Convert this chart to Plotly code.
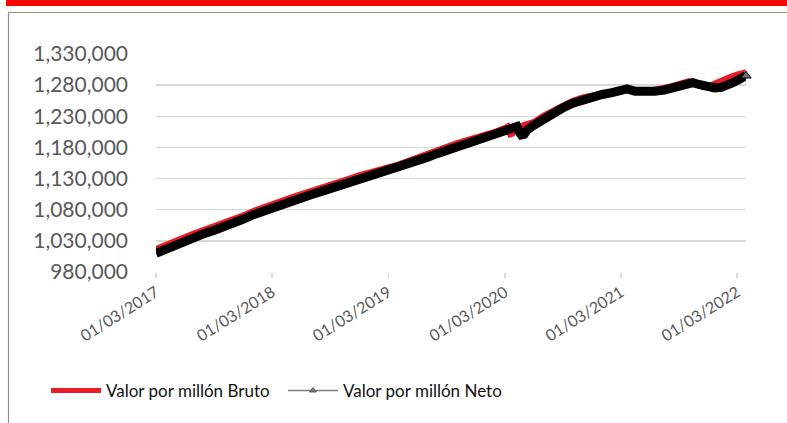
import plotly.graph_objects as go

# ---------------- data ----------------
neto_dates = [
    "2017-03-01", "2017-04-01", "2017-05-01", "2017-06-01", "2017-07-01", "2017-08-01",
    "2017-09-01", "2017-10-01", "2017-11-01", "2017-12-01", "2018-01-01", "2018-02-01",
    "2018-03-01", "2018-04-01", "2018-05-01", "2018-06-01", "2018-07-01", "2018-08-01",
    "2018-09-01", "2018-10-01", "2018-11-01", "2018-12-01", "2019-01-01", "2019-02-01",
    "2019-03-01", "2019-04-01", "2019-05-01", "2019-06-01", "2019-07-01", "2019-08-01",
    "2019-09-01", "2019-10-01", "2019-11-01", "2019-12-01", "2020-01-01", "2020-02-01",
    "2020-03-01", "2020-03-15", "2020-04-01", "2020-04-08", "2020-04-15", "2020-04-22",
    "2020-05-01", "2020-05-10", "2020-06-01", "2020-07-01", "2020-08-01", "2020-09-01",
    "2020-10-01", "2020-11-01", "2020-12-01", "2021-01-01", "2021-02-01", "2021-03-01",
    "2021-03-20", "2021-04-15", "2021-05-15", "2021-06-15", "2021-07-15", "2021-08-15",
    "2021-09-15", "2021-10-13", "2021-11-01", "2021-11-26", "2021-12-20", "2022-01-10",
    "2022-02-01", "2022-02-16", "2022-03-10", "2022-03-29",
]
neto_values = [
    1010000, 1017000, 1024000, 1030000, 1036000, 1042000,
    1047000, 1052000, 1058000, 1065000, 1072000, 1078000,
    1084000, 1089000, 1094000, 1099000, 1104000, 1109000,
    1114000, 1119000, 1124000, 1129000, 1133000, 1137000,
    1141000, 1146000, 1151000, 1157000, 1164000, 1170000,
    1175000, 1180000, 1185000, 1189000, 1194000, 1199000,
    1205000, 1209000, 1212000, 1213500, 1205000, 1200000,
    1201000, 1208000, 1216000, 1226000, 1235000, 1244000,
    1251000, 1257000, 1261000, 1265000, 1268000, 1271000,
    1274000, 1270000, 1269000, 1270000, 1272000, 1275000,
    1280000, 1284000, 1281000, 1277500, 1275500, 1276500,
    1280000, 1284000, 1290000, 1295000,
]

bruto_dates = [
    "2017-03-01", "2017-04-01", "2017-05-01", "2017-06-01", "2017-07-01", "2017-08-01",
    "2017-09-01", "2017-10-01", "2017-11-01", "2017-12-01", "2018-01-01", "2018-02-01",
    "2018-03-01", "2018-04-01", "2018-05-01", "2018-06-01", "2018-07-01", "2018-08-01",
    "2018-09-01", "2018-10-01", "2018-11-01", "2018-12-01", "2019-01-01", "2019-02-01",
    "2019-03-01", "2019-04-01", "2019-05-01", "2019-06-01", "2019-07-01", "2019-08-01",
    "2019-09-01", "2019-10-01", "2019-11-01", "2019-12-01", "2020-01-01", "2020-02-01",
    "2020-03-01", "2020-03-10", "2020-03-18", "2020-03-25", "2020-04-05", "2020-05-01",
    "2020-06-01", "2020-07-01", "2020-08-01", "2020-09-01", "2020-10-01", "2020-11-01",
    "2020-12-01", "2021-01-01", "2021-02-01", "2021-03-01", "2021-04-01", "2021-05-01",
    "2021-06-01", "2021-07-01", "2021-08-01", "2021-09-01", "2021-10-01", "2021-10-25",
    "2021-11-15", "2021-12-05", "2022-01-01", "2022-02-01", "2022-03-01", "2022-03-29",
]
bruto_values = [
    1017000, 1024000, 1030500, 1036500, 1042500, 1048000,
    1053500, 1058500, 1064500, 1071000, 1078000, 1084000,
    1090000, 1095000, 1100000, 1105000, 1110500, 1115500,
    1120500, 1125500, 1130500, 1135500, 1139500, 1143500,
    1147500, 1152500, 1158000, 1164000, 1170500, 1176500,
    1181500, 1186500, 1191500, 1195500, 1200500, 1205500,
    1211000, 1213500, 1201000, 1202000, 1212000, 1217000,
    1221000, 1231000, 1240000, 1248500, 1255000, 1260500,
    1264000, 1267500, 1270000, 1272500, 1273500, 1271000,
    1271500, 1274000, 1277500, 1282000, 1286500, 1283000,
    1277000, 1279000, 1286000, 1292000, 1297000, 1301000,
]

series_names = ["Valor por millón Bruto", "Valor por millón Neto"]
x_tick_dates = ["2017-03-01", "2018-03-01", "2019-03-01", "2020-03-01", "2021-03-01", "2022-03-01"]
x_tick_labels = ["01/03/2017", "01/03/2018", "01/03/2019", "01/03/2020", "01/03/2021", "01/03/2022"]
y_tick_values = [980000, 1030000, 1080000, 1130000, 1180000, 1230000, 1280000, 1330000]
y_tick_labels = ["980,000", "1,030,000", "1,080,000", "1,130,000", "1,180,000",
                 "1,230,000", "1,280,000", "1,330,000"]

# ---------------- layout geometry ----------------
W, H = 787, 423
L, R, T, B = 156, 41, 54, 151
pw, ph = W - L - R, H - T - B


def px_x(px):
    return (px - L) / pw


def px_y(py):
    return (H - B - py) / ph


RED = "#ec1c24"
GRID = "#d9d9d9"
FONT = "Lato, 'Noto Sans', sans-serif"

fig = go.Figure()

fig.add_trace(go.Scatter(
    x=bruto_dates, y=bruto_values, mode="lines",
    line=dict(color=RED, width=6), showlegend=False, hoverinfo="skip"))
fig.add_trace(go.Scatter(
    x=neto_dates, y=neto_values, mode="lines",
    line=dict(color="#000000", width=9), showlegend=False, hoverinfo="skip"))
fig.add_trace(go.Scatter(
    x=neto_dates[-1:], y=neto_values[-1:], mode="markers",
    marker=dict(symbol="triangle-up", size=9, color="#6f6f6f",
                line=dict(color="#000000", width=1)),
    cliponaxis=False, showlegend=False, hoverinfo="skip"))

# legend entries
fig.add_trace(go.Scatter(
    x=[None], y=[None], mode="lines", name=series_names[0],
    line=dict(color=RED, width=5)))
fig.add_trace(go.Scatter(
    x=[None], y=[None], mode="lines+markers", name=series_names[1],
    line=dict(color="#7f7f7f", width=1.5),
    marker=dict(symbol="triangle-up", size=6, color="#7f7f7f",
                line=dict(color="#404040", width=0.8))))

fig.update_layout(
    width=W, height=H,
    margin=dict(l=L, r=R, t=T, b=B, pad=0, autoexpand=False),
    paper_bgcolor="white", plot_bgcolor="white",
    font=dict(family=FONT, color="#595959"),
    showlegend=True,
    legend=dict(
        orientation="h", xref="container", yref="container",
        x=46 / W, y=1 - 391 / H, xanchor="left", yanchor="middle",
        font=dict(family=FONT, size=17, color="#111111"),
        itemwidth=50, entrywidth=172, bgcolor="rgba(0,0,0,0)", traceorder="normal",
    ),
    xaxis=dict(
        type="date", range=["2017-03-01", "2022-03-29"], automargin=False,
        tickvals=x_tick_dates, ticktext=x_tick_labels, tickangle=-32,
        tickfont=dict(family=FONT, size=16, color="#595959"),
        ticks="outside", ticklen=5, tickwidth=1.5, tickcolor=GRID,
        showgrid=False, showline=False, zeroline=False,
        ticklabelstandoff=-1,
    ),
    yaxis=dict(
        range=[980000, 1330000], automargin=False,
        tickvals=y_tick_values, ticktext=y_tick_labels,
        tickfont=dict(family=FONT, size=21, color="#595959"),
        showgrid=True, gridcolor=GRID, gridwidth=1.5,
        zeroline=False, showline=False, ticks="",
        ticklabelstandoff=27,
    ),
    shapes=[
        # red band at the very top
        dict(type="rect", xref="paper", yref="paper",
             x0=px_x(6), x1=px_x(W + 2), y0=px_y(6), y1=px_y(-2),
             fillcolor="#ff0000", line=dict(width=0), layer="above"),
        # chart frame (top and left edges)
        dict(type="line", xref="paper", yref="paper",
             x0=px_x(8.5), x1=px_x(W + 2), y0=px_y(12.5), y1=px_y(12.5),
             line=dict(color="#8c8c8c", width=1.2)),
        dict(type="line", xref="paper", yref="paper",
             x0=px_x(8.5), x1=px_x(8.5), y0=px_y(12.5), y1=px_y(H + 2),
             line=dict(color="#8c8c8c", width=1.2)),
    ],
)

fig.write_html(
    "out.html",
    config={"displayModeBar": False, "staticPlot": True},
    post_script="document.body.style.margin='0';document.body.style.overflow='hidden';",
)
